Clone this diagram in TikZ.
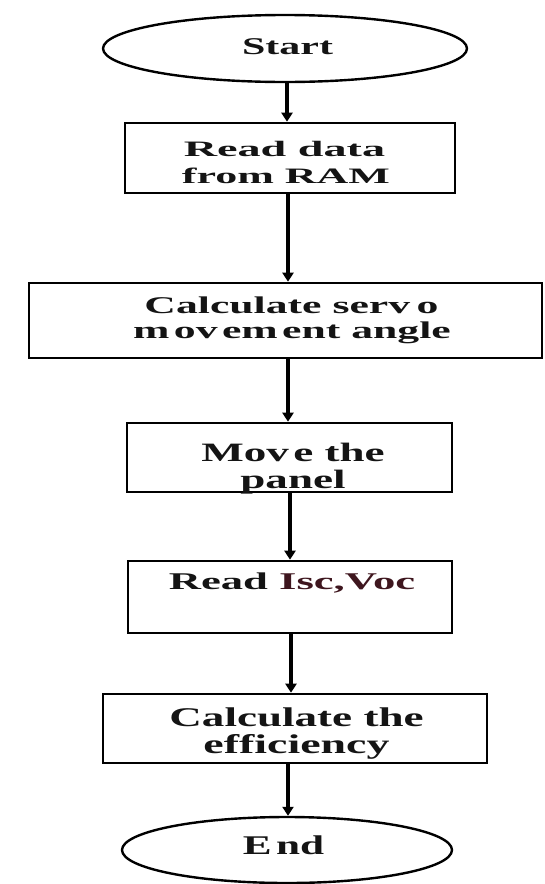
\documentclass[tikz,border=0pt]{standalone}
\usepackage{fontspec}
\usepackage{graphicx}
\setmainfont{Liberation Serif}
\usetikzlibrary{arrows.meta,shapes.geometric}
\definecolor{isc}{RGB}{62,22,30}
\definecolor{ink}{RGB}{20,20,20}
\newcommand{\stx}[3]{{\fontsize{#1}{#1}\selectfont\bfseries\scalebox{#2}[1]{#3}}}
\begin{document}
\begin{tikzpicture}[x=1pt,y=-1pt,
  box/.style={draw=black,line width=2.6pt,rectangle,inner sep=0pt},
  term/.style={draw=black,line width=2.4pt,ellipse,inner sep=0pt},
  lbl/.style={anchor=base,inner sep=0pt,text=ink},
  arr/.style={draw=black,line width=3.6pt,-{Triangle[width=11pt,length=9pt]}}]
\useasboundingbox[fill=white] (0,0) rectangle (544,884);

% shapes
\node[term,minimum width=364pt,minimum height=67pt] (start) at (285,48.5) {};
\node[box,minimum width=330pt,minimum height=70pt] (b1) at (290,158) {};
\node[box,minimum width=513pt,minimum height=75pt] (b2) at (285.5,320.5) {};
\node[box,minimum width=325pt,minimum height=69pt] (b3) at (289.5,457.5) {};
\node[box,minimum width=324pt,minimum height=72pt] (b4) at (290,597) {};
\node[box,minimum width=384pt,minimum height=69pt] (b5) at (295,728.5) {};
\node[term,minimum width=330pt,minimum height=66pt] (end) at (287,850) {};

% texts
\node[lbl] (tstart) at (287.5,54) {\stx{24}{1.75}{Start}};
\node[lbl] (t1a) at (284.5,156) {\stx{22}{2.1}{Read data}};
\node[lbl] (t1b) at (286,183) {\stx{22}{2.0}{from RAM}};
\node[lbl] (t2a) at (291.5,313) {\stx{24}{1.82}{Calculate serv\kern0.15em o}};
\node[lbl] (t2b) at (292,338) {\stx{24}{1.82}{m\kern0.1em ov\kern0.1em em\kern0.1em ent angle}};
\node[lbl] (t3a) at (293,461) {\stx{26.5}{1.7}{Mov\kern0.1em e the}};
\node[lbl] (t3b) at (293,488) {\stx{26.5}{1.7}{panel}};
\node[lbl] (t4) at (292,589) {\stx{24}{1.86}{Read \textcolor{isc}{Isc,Voc}}};
\node[lbl] (t5a) at (296.5,726) {\stx{27}{1.67}{Calculate the}};
\node[lbl] (t5b) at (296.5,753) {\stx{27}{1.7}{efficiency}};
\node[lbl] (tend) at (283.5,854) {\stx{27}{1.6}{E\kern0.1em nd}};

% arrow axes
\coordinate (ax1) at (287,0);
\coordinate (ax2) at (288,0);
\coordinate (ax3) at (288,0);
\coordinate (ax4) at (290,0);
\coordinate (ax5) at (291,0);
\coordinate (ax6) at (288,0);

\draw[arr] (start.south -| ax1) -- (b1.north -| ax1);
\draw[arr] (b1.south -| ax2) -- (b2.north -| ax2);
\draw[arr] (b2.south -| ax3) -- (b3.north -| ax3);
\draw[arr] (b3.south -| ax4) -- (b4.north -| ax4);
\draw[arr] (b4.south -| ax5) -- (b5.north -| ax5);
\draw[arr] (b5.south -| ax6) -- (end.north -| ax6);
\end{tikzpicture}
\end{document}
